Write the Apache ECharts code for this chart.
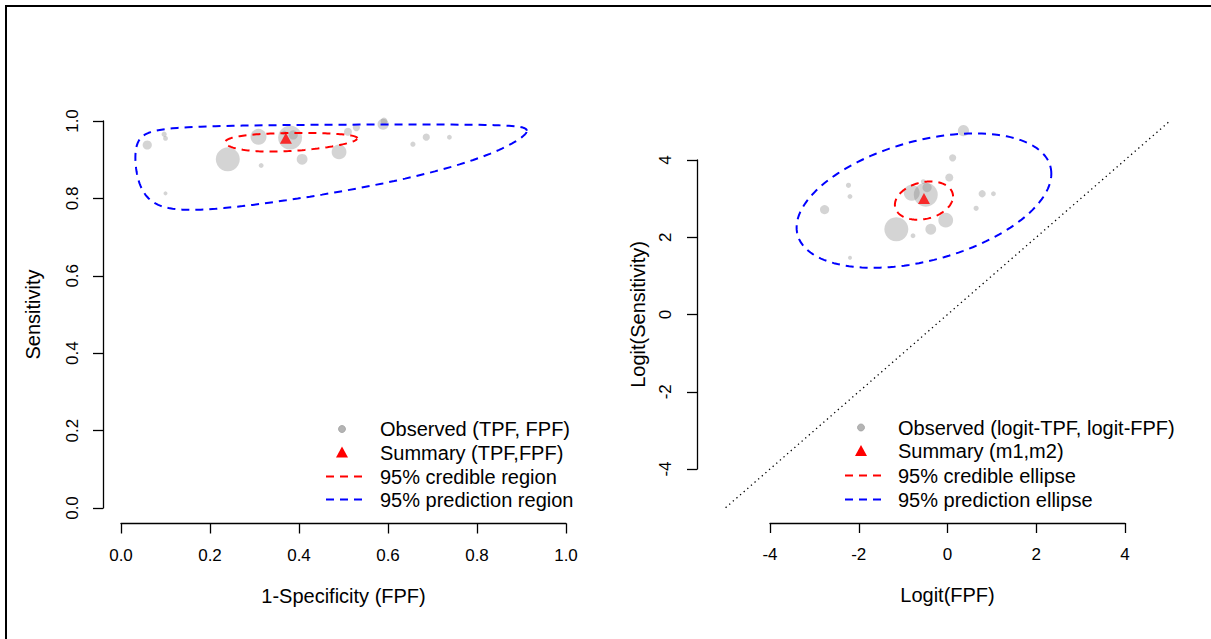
<!DOCTYPE html>
<html>
<head>
<meta charset="utf-8">
<script src="https://cdn.jsdelivr.net/npm/echarts@6/dist/echarts.min.js"></script>
<style>
  html, body { margin: 0; padding: 0; background: #ffffff; }
  #chart { width: 1211px; height: 639px; }
</style>
</head>
<body>
<div id="chart"></div>
<script>
// Per-study estimates: false positive fraction (1-specificity) and true positive fraction (sensitivity)
const studyFPF = [0.059, 0.097, 0.100, 0.100, 0.240, 0.309, 0.380, 0.387, 0.367, 0.315, 0.407, 0.490, 0.510, 0.529, 0.589, 0.591, 0.656, 0.686, 0.738];
const studyTPF = [0.938, 0.966, 0.955, 0.813, 0.901, 0.959, 0.957, 0.964, 0.969, 0.885, 0.901, 0.920, 0.972, 0.983, 0.9915, 1.000, 0.940, 0.958, 0.958];
// Relative study weight (drives circle size)
const studyWeight = [2.3, 1.3, 1.2, 1.0, 6.0, 4.0, 6.0, 2.3, 1.2, 1.2, 2.7, 3.7, 2.0, 1.8, 2.8, 1.7, 1.3, 1.8, 1.2];

// Summary point on the logit scale (m1 = logit FPF, m2 = logit TPF)
const summaryLogit = [-0.53, 2.95];
// Ellipse half-extents on the logit scale [x, y] and correlation
const credibleHalf = [0.655, 0.495];
const credibleRho = 0.22;
const predictionHalf = [2.87, 1.74];
const predictionRho = 0.40;

// Reference diagonal (logit TPF = logit FPF)
const diagonalEnds = [-5, 5];

// Axis tick settings
const probTicks = { min: 0, max: 1, interval: 0.2 };
const logitTicks = { min: -4, max: 4, interval: 2 };
// Full plotting-region limits (ticks span only part of them)
const probRegion = [-0.04, 1.04];
const logitRegionX = [-5.64, 5.2];
const logitRegionY = [-5.4, 5.42];

// Legend texts
const legendLeft = ['Observed (TPF, FPF)', 'Summary (TPF,FPF)', '95% credible region', '95% prediction region'];
const legendRight = ['Observed (logit-TPF, logit-FPF)', 'Summary (m1,m2)', '95% credible ellipse', '95% prediction ellipse'];

const logit = p => Math.log(p / (1 - p));
const expit = x => 1 / (1 + Math.exp(-x));

// Contour of a bivariate normal region given half-extents and correlation
function ellipse(center, half, rho) {
  const d = Math.acos(rho);
  const pts = [];
  const n = 160;
  for (let i = 0; i <= n; i++) {
    const t = (2 * Math.PI * i) / n;
    pts.push([center[0] + half[0] * Math.cos(t), center[1] + half[1] * Math.cos(t - d)]);
  }
  return pts;
}

const credLogit = ellipse(summaryLogit, credibleHalf, credibleRho);
const predLogit = ellipse(summaryLogit, predictionHalf, predictionRho);
const toProb = pts => pts.map(p => [expit(p[0]), expit(p[1])]);

const studiesProb = studyFPF.map((f, i) => [f, studyTPF[i], studyWeight[i]]);
// studies with a fraction of exactly 0 or 1 have no finite logit and are left out of the logit panel
const studiesLogit = studyFPF
  .map((f, i) => [logit(f), logit(studyTPF[i]), studyWeight[i]])
  .filter(p => isFinite(p[0]) && isFinite(p[1]));
const summaryProb = [expit(summaryLogit[0]), expit(summaryLogit[1])];

const FONT = '"Liberation Sans", Arial, Helvetica, sans-serif';
const grey = 'rgba(128,128,128,0.42)';
const dashPattern = [8, 6];

function axisCommon(ticks, fmt) {
  return {
    type: 'value',
    min: ticks.min, max: ticks.max, interval: ticks.interval,
    axisLine: { show: true, onZero: false, lineStyle: { color: '#000', width: 1.3 } },
    axisTick: { show: true, inside: false, length: 10, lineStyle: { color: '#000', width: 1.3 } },
    axisLabel: { color: '#000', fontSize: 17, fontFamily: FONT, formatter: fmt },
    splitLine: { show: false },
    nameLocation: 'middle',
    nameTextStyle: { color: '#000', fontSize: 20, fontFamily: FONT }
  };
}
const fmtProb = v => v.toFixed(1);
const fmtLogit = v => String(v);

function merge(a, b) {
  const o = Object.assign({}, a, b);
  o.axisLabel = Object.assign({}, a.axisLabel, b.axisLabel || {});
  return o;
}
function hiddenAxis(grid, range) {
  return { type: 'value', gridIndex: grid, min: range[0], max: range[1], show: false, splitLine: { show: false } };
}

const xAxes = [
  merge(axisCommon(probTicks, fmtProb), { gridIndex: 0, offset: 15.5, name: '1-Specificity (FPF)', nameGap: 62, axisLabel: { margin: 23 } }),
  merge(axisCommon(logitTicks, fmtLogit), { gridIndex: 1, offset: 54, name: 'Logit(FPF)', nameGap: 62, axisLabel: { margin: 23 } }),
  hiddenAxis(2, probRegion),
  hiddenAxis(3, logitRegionX)
];
const yAxes = [
  merge(axisCommon(probTicks, fmtProb), { gridIndex: 0, offset: 18, name: 'Sensitivity', nameGap: 60, axisLabel: { rotate: 90, margin: 22 } }),
  merge(axisCommon(logitTicks, fmtLogit), { gridIndex: 1, offset: 73, name: 'Logit(Sensitivity)', nameGap: 49, axisLabel: { rotate: 90, margin: 23 } }),
  hiddenAxis(2, probRegion),
  hiddenAxis(3, logitRegionY)
];

function studySeries(data, idx) {
  return {
    type: 'scatter', xAxisIndex: idx, yAxisIndex: idx, data: data, clip: true,
    symbol: 'circle', symbolSize: d => d[2] * 4,
    itemStyle: { color: grey }, silent: true
  };
}
function regionSeries(data, idx, color) {
  return {
    type: 'line', xAxisIndex: idx, yAxisIndex: idx, data: data, clip: true,
    showSymbol: false, symbol: 'none', smooth: false,
    lineStyle: { color: color, width: 2, type: dashPattern }, silent: true
  };
}
function summarySeries(point, idx) {
  return {
    type: 'scatter', xAxisIndex: idx, yAxisIndex: idx, data: [point], clip: true,
    symbol: 'triangle', symbolSize: [12, 11], symbolOffset: [0, -2],
    itemStyle: { color: '#ff0000' }, silent: true, z: 5
  };
}

function legendGraphics(x0, textX, rows, labels) {
  const els = [];
  els.push({ type: 'circle', shape: { cx: x0, cy: rows[0], r: 3.5 }, style: { fill: '#b4b4b4', stroke: '#a0a0a0', lineWidth: 0.8 } });
  els.push({ type: 'polygon', shape: { points: [[x0, rows[1] - 6], [x0 - 6, rows[1] + 5], [x0 + 6, rows[1] + 5]] }, style: { fill: '#ff0000' } });
  els.push({ type: 'line', shape: { x1: x0 - 16, y1: rows[2], x2: x0 + 20, y2: rows[2] }, style: { stroke: '#ff0000', lineWidth: 2, lineDash: dashPattern } });
  els.push({ type: 'line', shape: { x1: x0 - 16, y1: rows[3], x2: x0 + 20, y2: rows[3] }, style: { stroke: '#0000ff', lineWidth: 2, lineDash: dashPattern } });
  labels.forEach((t, i) => {
    els.push({ type: 'text', x: textX, y: rows[i], style: { text: t, fill: '#000', fontSize: 20, fontFamily: FONT, verticalAlign: 'middle', align: 'left' } });
  });
  return els;
}

const chart = echarts.init(document.getElementById('chart'), null, { renderer: 'svg' });
chart.setOption({
  animation: false,
  backgroundColor: '#ffffff',
  textStyle: { fontFamily: FONT },
  grid: [
    // tick spans
    { left: 121, right: 645, top: 121, bottom: 131 },
    { left: 770, right: 86, top: 160, bottom: 170 },
    // full plotting regions
    { left: 103.2, right: 627.2, top: 105.5, bottom: 115.5 },
    { left: 697.2, right: 32.75, top: 105.2, bottom: 115.9 }
  ],
  xAxis: xAxes,
  yAxis: yAxes,
  series: [
    studySeries(studiesProb, 2),
    regionSeries(toProb(predLogit), 2, '#0000ff'),
    regionSeries(toProb(credLogit), 2, '#ff0000'),
    summarySeries(summaryProb, 2),
    studySeries(studiesLogit, 3),
    regionSeries(predLogit, 3, '#0000ff'),
    regionSeries(credLogit, 3, '#ff0000'),
    summarySeries(summaryLogit, 3),
    {
      type: 'line', xAxisIndex: 3, yAxisIndex: 3, clip: true, showSymbol: false, symbol: 'none',
      data: [[diagonalEnds[0], diagonalEnds[0]], [diagonalEnds[1], diagonalEnds[1]]],
      lineStyle: { color: '#000', width: 1.3, type: [1.3, 3.5] }, silent: true
    }
  ],
  graphic: [
    { type: 'polyline', shape: { points: [[6, 639], [6, 6], [1211, 6]] }, style: { stroke: '#000', lineWidth: 2, fill: null } },
    { type: 'group', children: legendGraphics(342, 380, [429, 452.5, 476.5, 499.5], legendLeft) },
    { type: 'group', children: legendGraphics(861, 898, [427.5, 451, 475.5, 499.5], legendRight) }
  ]
});
</script>
</body>
</html>
